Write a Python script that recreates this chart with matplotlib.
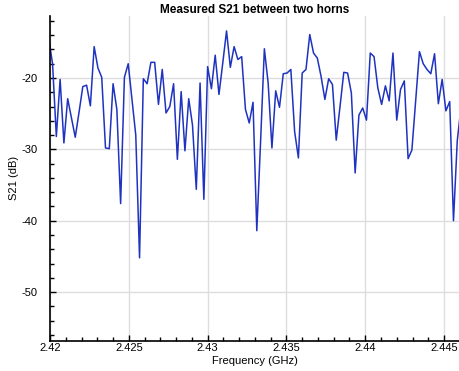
import numpy as np
import matplotlib
matplotlib.use("Agg")
from matplotlib import pyplot as plt
from matplotlib.ticker import MultipleLocator, FuncFormatter

plt.rcParams['font.family'] = ['Liberation Sans', 'DejaVu Sans']
plt.rcParams['axes.unicode_minus'] = False

# frequency sweep (GHz): start and step of the measurement points
f_start = 2.41992
f_step = 0.00024

# measured S21 (dB)
s21 = [
    -14.5, -18.0, -28.2, -20.2, -29.1, -22.9, -25.6, -28.3, -24.8, -21.2,
    -21.0, -23.9, -15.6, -18.6, -19.9, -29.8, -29.9, -20.8, -24.4, -37.6,
    -19.9, -18.0, -23.0, -28.0, -45.2, -20.1, -20.8, -17.8, -17.8, -23.7,
    -18.8, -24.9, -24.0, -20.8, -31.4, -21.9, -30.2, -22.9, -26.6, -35.6,
    -20.7, -37.0, -18.4, -21.5, -16.8, -22.3, -17.9, -13.4, -18.5, -15.6,
    -17.4, -17.0, -24.4, -26.3, -23.4, -41.4, -28.9, -15.9, -20.7, -29.8,
    -21.8, -24.1, -19.4, -19.3, -18.8, -27.5, -31.2, -19.3, -18.8, -13.9,
    -16.5, -17.2, -19.8, -23.0, -20.1, -20.9, -28.7, -24.0, -19.2, -19.3,
    -22.1, -33.3, -25.2, -24.2, -25.9, -16.5, -17.0, -21.4, -23.7, -21.1,
    -23.2, -16.5, -25.9, -21.6, -20.4, -31.3, -30.1, -23.2, -16.3, -18.0,
    -18.8, -19.4, -16.6, -23.6, -20.2, -24.6, -23.3, -40.0, -28.8, -24.0,
]
freq = f_start + f_step * np.arange(len(s21))

fig = plt.figure(figsize=(4.59, 3.71), dpi=100)
ax = fig.add_axes([0.109, 0.082, 0.891, 0.875])

ax.plot(freq, s21, color='#1f33c0', linewidth=1.1)

ax.set_xlim(2.42, 2.44595)
ax.set_ylim(-56.8, -11.3)

ax.xaxis.set_major_locator(MultipleLocator(0.005))
ax.xaxis.set_minor_locator(MultipleLocator(0.001))
ax.yaxis.set_major_locator(MultipleLocator(10))
ax.yaxis.set_minor_locator(MultipleLocator(2))
ax.xaxis.set_major_formatter(FuncFormatter(lambda v, p: '%g' % round(v, 4)))
ax.yaxis.set_major_formatter(FuncFormatter(lambda v, p: '%g' % v))

ax.tick_params(which='both', direction='in', labelsize=8, color='black')
ax.tick_params(which='major', length=4, width=1)
ax.tick_params(which='minor', length=3, width=1)
ax.tick_params(axis='x', pad=2)
ax.tick_params(axis='y', pad=9)

ax.grid(True, which='major', color='#dddddd', linewidth=1)
ax.set_axisbelow(True)
for side in ['top', 'right']:
    ax.spines[side].set_visible(False)
for side in ['left', 'bottom']:
    ax.spines[side].set_linewidth(1.2)

ax.set_title("Measured S21 between two horns", fontsize=8.5, fontweight='bold', pad=1)
ax.set_xlabel("Frequency (GHz)", fontsize=8, labelpad=2)
ax.set_ylabel("S21 (dB)", fontsize=8, labelpad=2)

fig.savefig("out.png", dpi=100)
